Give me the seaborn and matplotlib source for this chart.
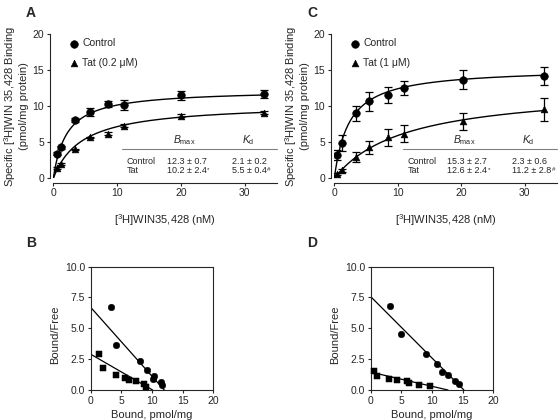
import numpy as np
import matplotlib
matplotlib.use("Agg")
import matplotlib.pyplot as plt
import seaborn as sns

# ---------------- data ----------------
# saturation binding, panel A (Tat 0.2 uM)
conc_a = [0.5, 1.2, 3.4, 5.8, 8.5, 11.1, 20.0, 33.0]
ctrl_a = [3.4, 4.3, 8.1, 9.2, 10.3, 10.2, 11.5, 11.7]
ctrl_a_err = [0.2, 0.2, 0.3, 0.6, 0.4, 0.7, 0.6, 0.6]
tat_a = [1.4, 2.0, 4.0, 5.7, 6.2, 7.3, 8.7, 9.1]
tat_a_err = [0.1, 0.1, 0.1, 0.1, 0.2, 0.2, 0.2, 0.2]
fit_ctrl_a = (12.3, 2.1)   # Bmax, Kd of drawn curve
fit_tat_a = (10.4, 4.5)

# panel C (Tat 1 uM)
conc_c = [0.5, 1.2, 3.4, 5.5, 8.4, 10.9, 20.2, 33.0]
ctrl_c = [3.2, 4.9, 9.0, 10.7, 11.6, 12.5, 13.7, 14.2]
ctrl_c_err = [0.7, 1.1, 1.0, 1.3, 1.1, 1.0, 1.3, 1.3]
tat_c = [0.6, 1.1, 2.9, 4.3, 5.7, 6.2, 7.9, 9.6]
tat_c_err = [0.2, 0.2, 0.7, 0.9, 1.2, 1.2, 1.2, 1.6]
fit_ctrl_c = (15.3, 2.3)
fit_tat_c = (12.6, 11.2)

# Scatchard, panel B
bound_ctrl_b = [3.3, 4.2, 8.0, 9.1, 10.1, 10.3, 11.5, 11.7]
bf_ctrl_b = [6.7, 3.65, 2.35, 1.6, 0.92, 1.16, 0.62, 0.4]
bound_tat_b = [1.35, 2.0, 4.1, 5.65, 6.25, 7.35, 8.75, 9.0]
bf_tat_b = [2.9, 1.76, 1.24, 1.0, 0.81, 0.73, 0.46, 0.27]
line_ctrl_b = (6.7, 12.0)   # y-intercept, x-intercept
line_tat_b = (2.9, 10.1)

# Scatchard, panel D
bound_ctrl_d = [3.2, 4.9, 9.0, 10.8, 11.6, 12.6, 13.75, 14.4]
bf_ctrl_d = [6.8, 4.55, 2.9, 2.08, 1.45, 1.22, 0.73, 0.46]
bound_tat_d = [0.6, 1.1, 2.9, 4.3, 5.9, 6.3, 7.9, 9.7]
bf_tat_d = [1.54, 1.14, 0.92, 0.81, 0.76, 0.6, 0.41, 0.32]
line_ctrl_d = (7.57, 15.2)
line_tat_d = (1.45, 12.6)

# rows: name, Bmax, Bmax mark, Kd, Kd mark
table_a = [["Control", "12.3 ± 0.7", "", "2.1 ± 0.2", ""],
           ["Tat", "10.2 ± 2.4", "*", "5.5 ± 0.4", "#"]]
table_c = [["Control", "15.3 ± 2.7", "", "2.3 ± 0.6", ""],
           ["Tat", "12.6 ± 2.4", "*", "11.2 ± 2.8", "#"]]

# ---------------- style ----------------
sns.set_style("ticks")
plt.rcParams["font.family"] = ["Liberation Sans", "DejaVu Sans"]
plt.rcParams["mathtext.fontset"] = "custom"
plt.rcParams["mathtext.rm"] = "Liberation Sans"
plt.rcParams["mathtext.it"] = "Liberation Sans:italic"
plt.rcParams["mathtext.default"] = "regular"
plt.rcParams["xtick.major.size"] = 2.5
plt.rcParams["ytick.major.size"] = 2.5
plt.rcParams["xtick.major.width"] = 0.8
plt.rcParams["ytick.major.width"] = 0.8
plt.rcParams["axes.linewidth"] = 0.8

FS_TICK = 7.5
FS_LAB = 8
FS_LEG = 7.5
FS_TAB = 6.5
fig = plt.figure(figsize=(5.6, 4.2), dpi=100)

ax_a = fig.add_axes([0.0952, 0.5755, 0.399, 0.343])
ax_c = fig.add_axes([0.597, 0.5755, 0.397, 0.343])
ax_b = fig.add_axes([0.162, 0.0714, 0.219, 0.2937])
ax_d = fig.add_axes([0.662, 0.0714, 0.219, 0.2937])


def binding_panel(ax, conc, ctrl, ctrl_err, tat, tat_err, fit_c, fit_t, tat_label, table):
    xs = np.linspace(0, max(conc), 300)
    for bmax, kd in (fit_c, fit_t):
        sns.lineplot(x=xs, y=bmax * xs / (kd + xs), color="black", lw=1.0, ax=ax)
    ax.errorbar(conc, ctrl, yerr=ctrl_err, fmt="none", ecolor="black",
                elinewidth=0.9, capsize=3, capthick=0.9, zorder=2)
    ax.errorbar(conc, tat, yerr=tat_err, fmt="none", ecolor="black",
                elinewidth=0.9, capsize=3, capthick=0.9, zorder=2)
    sns.scatterplot(x=conc, y=ctrl, marker="o", s=30, color="black",
                    edgecolor="black", label="Control", ax=ax, zorder=3)
    sns.scatterplot(x=conc, y=tat, marker="^", s=24, color="black",
                    edgecolor="black", label=tat_label, ax=ax, zorder=3)
    ax.set_xlim(0, 35)
    ax.set_ylim(0, 20)
    ax.set_xticks([0, 10, 20, 30])
    ax.set_yticks([0, 5, 10, 15, 20])
    ax.tick_params(labelsize=FS_TICK, pad=1.5)
    ax.set_xlabel("[$^{3}$H]WIN35,428 (nM)", fontsize=FS_LAB)
    ax.set_ylabel("Specific [$^{3}$H]WIN 35,428 Binding\n(pmol/mg protein)",
                  fontsize=FS_LAB, linespacing=1.05)
    ax.xaxis.set_label_coords(0.5, -0.235)
    ax.yaxis.set_label_coords(-0.11, 0.5)
    ax.legend(loc="upper left", bbox_to_anchor=(0.05, 1.0), borderaxespad=0,
              frameon=False, fontsize=FS_LEG, handlelength=1.0, handletextpad=0.3,
              labelspacing=0.9)
    sns.despine(ax=ax, offset={"left": 2.5, "bottom": 3.2})

    # inset table
    ax.plot([10.8, 35], [4.07, 4.07], color="#808080", lw=0.8, clip_on=False)
    ax.text(20.5, 5.3, "$\\mathit{B}_{\\mathrm{max}}$", fontsize=FS_LEG, ha="center", va="center")
    ax.text(30.6, 5.3, "$\\mathit{K}_{\\mathrm{d}}$", fontsize=FS_LEG, ha="center", va="center")
    for row, yy in zip(table, [1.95, 0.7]):
        ax.text(11.5, yy, row[0], fontsize=FS_TAB, ha="left", va="baseline")
        for xx, val, mark in ((17.8, row[1], row[2]), (28.0, row[3], row[4])):
            t = ax.text(xx, yy, val, fontsize=FS_TAB, ha="left", va="baseline")
            if mark:
                ax.annotate(mark, xy=(1.0, 0.45), xycoords=t, xytext=(0.3, 0),
                            textcoords="offset points", fontsize=4.5,
                            ha="left", va="baseline")


def scatchard_panel(ax, b_c, f_c, b_t, f_t, line_c, line_t):
    for y0, x0 in (line_c, line_t):
        lx = np.array([0, x0])
        sns.lineplot(x=lx, y=y0 * (1 - lx / x0), color="black", lw=0.9, ax=ax)
    sns.scatterplot(x=b_c, y=f_c, marker="o", s=22, color="black",
                    edgecolor="black", ax=ax, zorder=3, clip_on=False)
    sns.scatterplot(x=b_t, y=f_t, marker="s", s=20, color="black",
                    edgecolor="black", ax=ax, zorder=3, clip_on=False)
    ax.set_xlim(0, 20)
    ax.set_ylim(0, 10)
    ax.set_xticks([0, 5, 10, 15, 20])
    ax.set_yticks([0, 2.5, 5, 7.5, 10])
    ax.set_yticklabels(["0.0", "2.5", "5.0", "7.5", "10.0"])
    ax.tick_params(labelsize=FS_TICK, pad=1.5)
    ax.set_xlabel("Bound, pmol/mg", fontsize=FS_LAB)
    ax.set_ylabel("Bound/Free", fontsize=FS_LAB)
    ax.xaxis.set_label_coords(0.5, -0.16)
    ax.yaxis.set_label_coords(-0.25, 0.45)


binding_panel(ax_a, conc_a, ctrl_a, ctrl_a_err, tat_a, tat_a_err,
              fit_ctrl_a, fit_tat_a, "Tat (0.2 μM)", table_a)
binding_panel(ax_c, conc_c, ctrl_c, ctrl_c_err, tat_c, tat_c_err,
              fit_ctrl_c, fit_tat_c, "Tat (1 μM)", table_c)
scatchard_panel(ax_b, bound_ctrl_b, bf_ctrl_b, bound_tat_b, bf_tat_b,
                line_ctrl_b, line_tat_b)
scatchard_panel(ax_d, bound_ctrl_d, bf_ctrl_d, bound_tat_d, bf_tat_d,
                line_ctrl_d, line_tat_d)

for letter, x, y in [("A", 0.0554, 0.969), ("B", 0.0554, 0.421),
                     ("C", 0.557, 0.969), ("D", 0.557, 0.421)]:
    fig.text(x, y, letter, fontsize=10, fontweight="bold", ha="center", va="center")

fig.savefig("out.png", dpi=100)
